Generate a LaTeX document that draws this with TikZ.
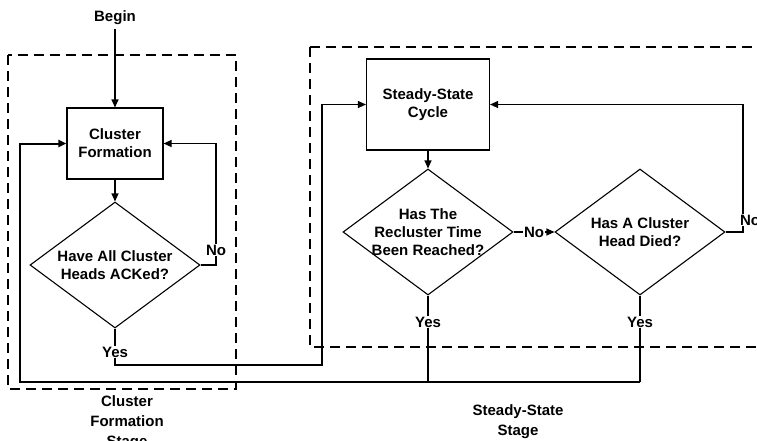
\documentclass[tikz,border=0pt]{standalone}
\usepackage{fontspec}
\setmainfont{Liberation Sans}
\usetikzlibrary{shapes.geometric,arrows.meta}
\begin{document}
\begin{tikzpicture}[x=1pt,y=-1pt,>={Triangle[length=8pt,width=7pt]},
  font=\fontsize{15}{18}\selectfont\bfseries,line width=1.1pt,
  box/.style={draw,align=center,minimum width=96pt,minimum height=71pt},
  decision/.style={draw,diamond,aspect=1.35,align=center,inner sep=-4pt,
    minimum width=170pt,minimum height=126pt},
  lbl/.style={fill=white,inner sep=1pt},
  stage/.style={align=center,font=\fontsize{15}{20}\selectfont\bfseries},
  frame/.style={dash pattern=on 10pt off 6pt},
  back/.style={line width=2pt}]
  \useasboundingbox (0,0) rectangle (757,440);
  \clip (0,0) rectangle (757,440);
  % stage frames
  \draw[frame] (8,55) rectangle (236,389);
  \draw[frame] (310,47) rectangle (775,347);
  % blocks
  \node (begin) at (115,18) {Begin};
  \node[box] (form) at (115,143.5) {Cluster\\Formation};
  \node[decision] (ack) at (115,265) {Have All Cluster\\Heads ACKed?};
  \node[box,minimum width=123pt,minimum height=91pt] (cycle) at (428,104.5) {Steady-State\\Cycle};
  \node[decision] (time) at (428,232) {Has The\\Recluster Time\\Been Reached?};
  \node[decision] (died) at (640,232) {Has A Cluster\\Head Died?};
  % turning points
  \coordinate (ackno) at (216,265);
  \coordinate (ackyes) at (322,365);
  \coordinate (diedno) at (743,232);
  \coordinate (timeret) at (428,382);
  \coordinate (diedret) at (640,382);
  \coordinate (retn) at (20,382);
  % connectors
  \draw[->] (begin) -- (form);
  \draw[->] (form) -- (ack);
  \draw[->] (ack.east) -- (ackno) |- (form.east);
  \draw[->] (ack.south) |- (ackyes) |- (cycle.west);
  \draw[->] (cycle) -- (time);
  \draw[->] (time) -- node[lbl] (no2) {No} (died);
  \draw[->] (died.east) -- (diedno) |- (cycle.east);
  \draw (time.south) -- (timeret);
  \draw (died.south) -- (diedret);
  \draw[back,->] (diedret) -- (retn) |- (form.west);
  % labels
  \node[lbl] (no1) at (216,250) {No};
  \node[lbl] (no3) at (750,220) {No};
  \node[lbl] (yes1) at (115,352) {Yes};
  \node[lbl] (yes2) at (428,322) {Yes};
  \node[lbl] (yes3) at (640,322) {Yes};
  \node[stage] (formstage) at (127,423) {Cluster\\Formation\\Stage};
  \node[stage] (cyclestage) at (518,422) {Steady-State\\Stage};
\end{tikzpicture}
\end{document}
